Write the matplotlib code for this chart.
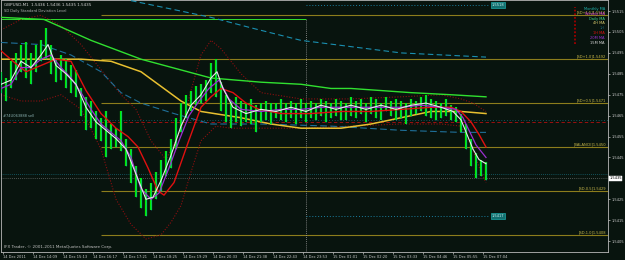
import matplotlib
matplotlib.use('Agg')
import matplotlib.pyplot as plt

# ---------------- data ----------------
bars = list(range(0, 490, 5))
hi = [1.5486, 1.5483, 1.5491, 1.5495, 1.5499, 1.5500, 1.5495, 1.5499, 1.5501, 1.5507,
      1.5499, 1.5492, 1.5494, 1.5492, 1.5489, 1.5487, 1.5478, 1.5474, 1.5472, 1.5467,
      1.5464, 1.5467, 1.5461, 1.5459, 1.5467, 1.5454, 1.5449, 1.5441, 1.5435, 1.5430,
      1.5433, 1.5438, 1.5444, 1.5448, 1.5454, 1.5464, 1.5471, 1.5475, 1.5477, 1.5479,
      1.5480, 1.5482, 1.5490, 1.5492, 1.5481, 1.5475, 1.5472, 1.5474, 1.5472, 1.5471,
      1.5473, 1.5470, 1.5471, 1.5472, 1.5471, 1.5471, 1.5473, 1.5471, 1.5472, 1.5471,
      1.5473, 1.5471, 1.5472, 1.5471, 1.5473, 1.5472, 1.5471, 1.5473, 1.5472, 1.5471,
      1.5474, 1.5472, 1.5473, 1.5471, 1.5474, 1.5473, 1.5471, 1.5474, 1.5472, 1.5473,
      1.5472, 1.5471, 1.5473, 1.5472, 1.5474, 1.5475, 1.5473, 1.5472, 1.5471, 1.5473,
      1.5470, 1.5469, 1.5466, 1.5461, 1.5454, 1.5447, 1.5444, 1.5443]
lo = [1.5476, 1.5472, 1.5478, 1.5482, 1.5486, 1.5483, 1.5480, 1.5486, 1.5491, 1.5492,
      1.5485, 1.5481, 1.5482, 1.5478, 1.5476, 1.5474, 1.5465, 1.5458, 1.5459, 1.5454,
      1.5453, 1.5445, 1.5449, 1.5450, 1.5448, 1.5441, 1.5433, 1.5426, 1.5421, 1.5417,
      1.5420, 1.5425, 1.5429, 1.5436, 1.5440, 1.5449, 1.5457, 1.5464, 1.5467, 1.5470,
      1.5471, 1.5472, 1.5476, 1.5474, 1.5467, 1.5462, 1.5459, 1.5462, 1.5460, 1.5462,
      1.5461, 1.5457, 1.5462, 1.5463, 1.5461, 1.5464, 1.5463, 1.5462, 1.5464, 1.5461,
      1.5464, 1.5462, 1.5464, 1.5463, 1.5465, 1.5462, 1.5464, 1.5465, 1.5463, 1.5463,
      1.5465, 1.5464, 1.5466, 1.5462, 1.5466, 1.5464, 1.5463, 1.5467, 1.5465, 1.5463,
      1.5464, 1.5461, 1.5465, 1.5466, 1.5467, 1.5465, 1.5464, 1.5463, 1.5464, 1.5465,
      1.5463, 1.5462, 1.5457, 1.5449, 1.5441, 1.5435, 1.5436, 1.5434]

ma15_x = [0, 10, 20, 30, 40, 47, 55, 65, 75, 85, 95, 105, 115, 125, 135, 145, 152, 160, 170, 180,
          190, 200, 210, 216, 222, 232, 245, 260, 275, 290, 305, 320, 335, 350, 365, 380, 395, 410,
          425, 440, 452, 460, 466, 472, 478, 485]
ma15_y = [1.5480, 1.5482, 1.5491, 1.5488, 1.5494, 1.5499, 1.5489, 1.5485, 1.5480, 1.5469, 1.5462,
          1.5458, 1.5454, 1.5449, 1.5437, 1.5425, 1.5426, 1.5434, 1.5446, 1.5460, 1.5470, 1.5475,
          1.5483, 1.5486, 1.5478, 1.5469, 1.5466, 1.5468, 1.5467, 1.5469, 1.5467, 1.5470, 1.5468,
          1.5470, 1.5468, 1.5470, 1.5468, 1.5470, 1.5471, 1.5469, 1.5467, 1.5463, 1.5456, 1.5449,
          1.5444, 1.5442]

ma20_x = [0, 10, 20, 30, 40, 50, 60, 70, 80, 90, 100, 110, 120, 130, 140, 150, 158, 168, 178, 188,
          198, 208, 218, 228, 240, 260, 280, 300, 320, 340, 360, 380, 400, 420, 440, 455, 462, 468,
          475, 485]
ma20_y = [1.5478, 1.5480, 1.5488, 1.5488, 1.5492, 1.5494, 1.5488, 1.5483, 1.5476, 1.5468, 1.5461,
          1.5457, 1.5453, 1.5445, 1.5430, 1.5425, 1.5428, 1.5440, 1.5453, 1.5465, 1.5472, 1.5478,
          1.5482, 1.5473, 1.5468, 1.5467, 1.5468, 1.5468, 1.5469, 1.5469, 1.5469, 1.5469, 1.5469,
          1.5470, 1.5469, 1.5468, 1.5464, 1.5458, 1.5451, 1.5445]

ma1h_x = [0, 12, 25, 40, 55, 70, 85, 100, 115, 127, 137, 147, 157, 163, 173, 187, 200, 210, 220,
          232, 245, 258, 280, 310, 340, 370, 400, 430, 450, 460, 470, 478, 485]
ma1h_y = [1.5496, 1.5491, 1.5486, 1.5489, 1.5492, 1.5491, 1.5477, 1.5466, 1.5459, 1.5455, 1.5450,
          1.5440, 1.5429, 1.5427, 1.5433, 1.5452, 1.5469, 1.5474, 1.5478, 1.5476, 1.5471, 1.5468,
          1.5466, 1.5466, 1.5467, 1.5467, 1.5468, 1.5469, 1.5469, 1.5467, 1.5462, 1.5456, 1.5450]

ma4h_x = [0, 40, 80, 110, 140, 160, 180, 200, 240, 270, 300, 340, 370, 400, 430, 460, 485]
ma4h_y = [1.5492, 1.5492, 1.5492, 1.5491, 1.5486, 1.5479, 1.5472, 1.5467, 1.5464, 1.5461, 1.5459,
          1.5459, 1.5461, 1.5464, 1.5467, 1.5467, 1.5466]

maD_x = [0, 43, 90, 140, 210, 260, 300, 330, 350, 410, 450, 485]
maD_y = [1.5512, 1.5511, 1.5501, 1.5492, 1.5483, 1.5481, 1.5480, 1.5478, 1.5478, 1.5476, 1.5475, 1.5474]

maM_x = [130, 210, 250, 300, 400, 485]
maM_y = [1.5520, 1.5512, 1.5507, 1.5501, 1.5495, 1.5493]

maW_x = [0, 40, 70, 100, 120, 140, 173, 210, 260, 330, 400, 460, 485]
maW_y = [1.5500, 1.5499, 1.5494, 1.5486, 1.5476, 1.5471, 1.5466, 1.5461, 1.5461, 1.5460, 1.5458,
         1.5457, 1.5457]

bbu_x = [0, 20, 40, 60, 80, 100, 120, 135, 150, 165, 180, 190, 200, 210, 220, 240, 260, 300, 350,
         400, 440, 460, 472, 485]
bbu_y = [1.5506, 1.5511, 1.5513, 1.5508, 1.5499, 1.5487, 1.5475, 1.5468, 1.5453, 1.5444, 1.5458,
         1.5477, 1.5494, 1.5501, 1.5497, 1.5485, 1.5476, 1.5473, 1.5473, 1.5474, 1.5475, 1.5473,
         1.5471, 1.5467]
bbl_x = [0, 20, 40, 60, 80, 100, 115, 130, 145, 160, 170, 180, 190, 200, 215, 230, 260, 300, 350,
         400, 440, 460, 470, 480, 485]
bbl_y = [1.5475, 1.5472, 1.5472, 1.5475, 1.5468, 1.5449, 1.5425, 1.5413, 1.5406, 1.5408, 1.5414,
         1.5422, 1.5438, 1.5453, 1.5460, 1.5459, 1.5459, 1.5459, 1.5460, 1.5461, 1.5461, 1.5460,
         1.5451, 1.5438, 1.5433]

sd_levels = [1.5513, 1.5492, 1.5471, 1.5450, 1.5429, 1.5408]
sd_labels = ['[SD+1.5]1.5513', '[SD+1.0]1.5492', '[SD+0.5]1.5471', '[BALANCE]1.5450',
             '[SD-0.5]1.5429', '[SD-1.0]1.5408']

day_high = 1.5511
order_price = 1.5462
ask_price = 1.5437
bid_price = 1.5435
range_top = 1.5518
range_bot = 1.5417

ytick_vals = [1.5515, 1.5505, 1.5495, 1.5485, 1.5475, 1.5465, 1.5455, 1.5445, 1.5425, 1.5415, 1.5405]
ytick_labels = ['1.5515', '1.5505', '1.5495', '1.5485', '1.5475', '1.5465', '1.5455', '1.5445',
                '1.5425', '1.5415', '1.5405']
xtick_pos = [2, 32, 62, 92, 122, 152, 182, 212, 242, 272, 302, 332, 362, 392, 422, 452, 482]
xtick_labels = ['14 Dec 2011', '14 Dec 14:09', '14 Dec 15:13', '14 Dec 16:17', '14 Dec 17:21',
                '14 Dec 18:25', '14 Dec 19:29', '14 Dec 20:33', '14 Dec 21:38', '14 Dec 22:43',
                '14 Dec 23:53', '15 Dec 01:01', '15 Dec 02:20', '15 Dec 03:33', '15 Dec 04:46',
                '15 Dec 05:55', '15 Dec 07:04']

legend_names = ['Monthly MA', 'Weekly MA', 'Daily MA', '4H MA', '1H', '1H MA', '20M MA', '15M MA']
legend_colors = ['#1fb5b0', '#e040e0', '#40d890', '#e0d070', '#1a6070', '#e01010', '#9b30d0', '#d8d8d8']

# ---------------- drawing ----------------
BG = '#08140e'
FS = 3.0
FST = 2.6
fig = plt.figure(figsize=(6.25, 2.6), dpi=100)
fig.patch.set_facecolor(BG)
ax = fig.add_axes([1 / 625, 8 / 260, 607 / 625, 252 / 260])
ax.set_facecolor(BG)
ax.set_xlim(0, 607)
ax.set_ylim(1.53998, 1.55203)

for s in ax.spines.values():
    s.set_color('#b8b8b8')
    s.set_linewidth(0.6)

# SD levels
ax.hlines(sd_levels, 100, 607, color='#8c7d1c', lw=0.8, zorder=1)
for lv, lb in zip(sd_levels, sd_labels):
    ax.text(605, lv + 0.00003, lb, ha='right', va='bottom', fontsize=FST, color='#c9b84a', zorder=6)

# range markers
ax.hlines(day_high, 0, 305, color='#30e030', lw=0.7, zorder=2)
ax.vlines(305, 1.53998, day_high, color='#a0a0a0', lw=0.6, linestyles=(0, (1, 1.5)), zorder=2)
ax.hlines([range_top, range_bot], 305, 487, color='#1a7fa0', lw=0.7, linestyles=(0, (1, 2)), zorder=2)
for v in (range_top, range_bot):
    ax.text(491, v, f'{v:.4f}', fontsize=FST, color='#c8f0f0', va='center', ha='left',
            bbox=dict(boxstyle='square,pad=0.2', fc='#137070', ec='#20c0c0', lw=0.4), zorder=6)

# order, bid / ask lines
ax.axhline(order_price, color='#b01010', lw=0.6, ls=(0, (4, 3)), zorder=2)
ax.axhline(order_price + 0.00008, color='#1a8aa0', lw=0.5, ls=(0, (1, 3)), zorder=2)
ax.text(2, order_price + 0.00018, '#74U063888 sell', fontsize=FST, color='#8ab0b0', va='bottom', zorder=6)
ax.axhline(ask_price, color='#1a8aa0', lw=0.5, ls=(0, (1, 2)), zorder=2)
ax.axhline(bid_price, color='#909090', lw=0.5, ls=(0, (1, 2)), zorder=2)

# envelopes
ax.plot(bbu_x, bbu_y, color='#8a0f0f', lw=0.8, ls=(0, (1, 1.5)), zorder=2)
ax.plot(bbl_x, bbl_y, color='#8a0f0f', lw=0.8, ls=(0, (1, 1.5)), zorder=2)

# long MAs
ax.plot(maM_x, maM_y, color='#1a8fb0', lw=0.8, ls=(0, (5, 3)), zorder=3)
ax.plot(maW_x, maW_y, color='#1f6f98', lw=0.8, ls=(0, (6, 3)), zorder=3)
ax.plot(maD_x, maD_y, color='#30e030', lw=1.0, zorder=3)
ax.plot(ma4h_x, ma4h_y, color='#e8c030', lw=1.1, zorder=3)

# price bars
ax.vlines(bars, lo, hi, color='#00ee00', lw=1.6, zorder=4)
ax.vlines(bars, lo, hi, color='#10a8a8', lw=0.4, zorder=4)

# short MAs
ax.plot(ma1h_x, ma1h_y, color='#e01010', lw=1.0, zorder=5)
ax.plot(ma20_x, ma20_y, color='#9b30d0', lw=0.9, zorder=5)
ax.plot(ma15_x, ma15_y, color='#e8e8e8', lw=0.8, zorder=5)

# legend block
ax.axvline(574, ymin=1 - 44 / 252, ymax=1 - 7 / 252, color='#a00000', lw=1.3, ls=(0, (1, 1)), zorder=6)
for i, (nm, c) in enumerate(zip(legend_names, legend_colors)):
    ax.text(0.995, 1 - (9 + 4.8 * i) / 252, nm, transform=ax.transAxes, ha='right', va='center',
            fontsize=FST, color=c, zorder=7)

# header and footer
ax.text(0.005, 1 - 5 / 252, 'GBPUSD,M1  1.5436 1.5436 1.5435 1.5435', transform=ax.transAxes,
        fontsize=FS, color='#d0d0d0', va='center')
ax.text(0.005, 1 - 11 / 252, 'SD Daily Standard Deviation Level', transform=ax.transAxes,
        fontsize=FST, color='#b0b0b0', va='center')
ax.text(0.005, 1 - 247 / 252, 'IFX Trader, \u00a9 2001-2011 MetaQuotes Software Corp.',
        transform=ax.transAxes, fontsize=FS, color='#c0c0c0', va='center')

# axes ticks
ax.yaxis.tick_right()
ax.set_yticks(ytick_vals)
ax.set_yticklabels(ytick_labels)
ax.set_xticks(xtick_pos)
ax.set_xticklabels(xtick_labels)
ax.tick_params(axis='both', colors='#c8c8c8', labelsize=FST, length=1.5, width=0.5, pad=0.8)
for lab in ax.get_xticklabels():
    lab.set_ha('left')

ax.text(1.002, bid_price, f'{bid_price:.4f}', transform=ax.get_yaxis_transform(), fontsize=FST,
        color='black', va='center', ha='left', clip_on=False,
        bbox=dict(boxstyle='square,pad=0.1', fc='white', ec='white', lw=0.3), zorder=8)

fig.savefig('out.png', dpi=100, facecolor=BG)
